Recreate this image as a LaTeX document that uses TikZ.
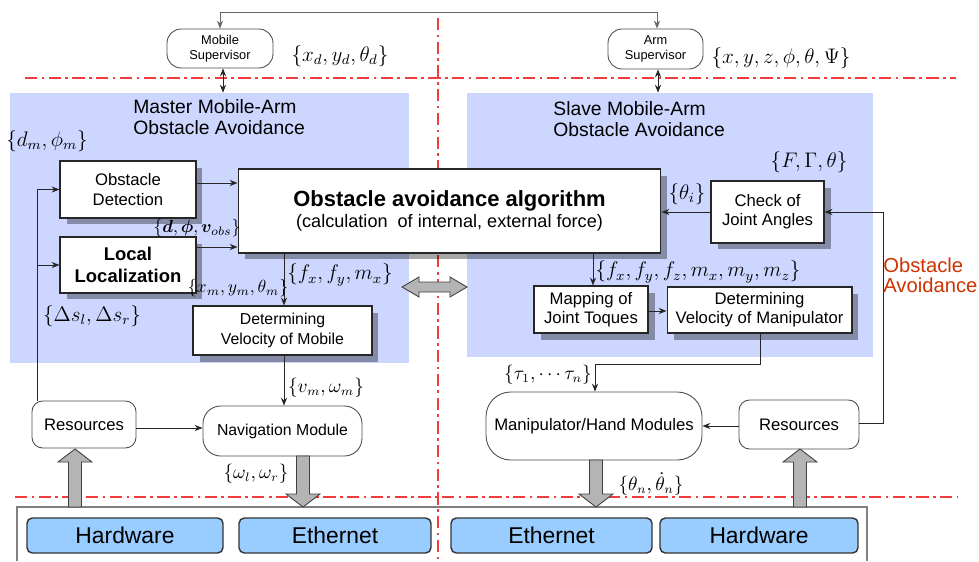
\documentclass[tikz,border=0pt]{standalone}
\usepackage{fontspec}
\setmainfont{Liberation Sans}
\usepackage{bm}
\usetikzlibrary{arrows.meta,shadows,calc}
\definecolor{panelblue}{RGB}{204,214,255}
\definecolor{hwblue}{RGB}{153,204,255}
\definecolor{dashred}{RGB}{240,60,60}
\definecolor{oared}{RGB}{204,51,0}
\definecolor{fatgray}{RGB}{180,180,180}
\newcommand\fatv[3]{%
  \pgfmathsetmacro\fatdir{(#3>#2)?1:-1}%
  \filldraw[fat] (#1-6.5,#2) -- (#1-6.5,#3-13*\fatdir) -- (#1-17,#3-13*\fatdir) -- (#1,#3)
    -- (#1+17,#3-13*\fatdir) -- (#1+6.5,#3-13*\fatdir) -- (#1+6.5,#2) -- cycle;}
\begin{document}
\begin{tikzpicture}[x=0.02cm,y=-0.02cm,
  every node/.style={inner sep=0pt, font=\fontsize{9.5}{11}\selectfont},
  sbox/.style={draw=black!85, fill=white, line width=0.6pt, align=center,
    drop shadow={shadow xshift=0.13cm, shadow yshift=-0.13cm, opacity=0.35, fill=black}},
  rbox/.style={draw=black!70, fill=white, line width=0.5pt, rounded corners=6pt, align=center},
  hwbox/.style={draw=black!80, fill=hwblue, line width=0.8pt, rounded corners=3pt,
    minimum height=0.7cm, font=\fontsize{13}{15}\selectfont},
  panel/.style={fill=panelblue, draw=none},
  conn/.style={draw=black!85, line width=0.5pt, -{Stealth[length=4.5pt,width=3.5pt]}},
  dconn/.style={draw=black!85, line width=0.5pt, {Stealth[length=4.5pt,width=3.5pt]}-{Stealth[length=4.5pt,width=3.5pt]}},
  redline/.style={draw=dashred, line width=0.7pt, dash pattern=on 7pt off 2.5pt on 1.5pt off 2.5pt},
  lbl/.style={font=\fontsize{12}{14}\selectfont},
  slbl/.style={font=\fontsize{10.5}{12}\selectfont},
  fat/.style={fill=fatgray, draw=black!75, line width=0.5pt}
]
\useasboundingbox (0,0) rectangle (979,561);

% panels
\node[panel, minimum width=7.98cm, minimum height=5.4cm] (master) at (209.5,228) {};
\node[panel, minimum width=8.12cm, minimum height=5.28cm] (slave) at (670,225) {};

% red dash-dot lines
\draw[redline] (25,78) -- (956,78);
\draw[redline] (15,497) -- (957,497);
\draw[redline] (438,18) -- (438,561);

% supervisors
\node[rbox, rounded corners=8pt, minimum width=2.12cm, minimum height=0.78cm,
  font=\fontsize{7.3}{8.5}\selectfont] (msup) at (220,48.5) {Mobile\\Supervisor};
\node[rbox, rounded corners=8pt, minimum width=1.9cm, minimum height=0.8cm,
  font=\fontsize{7.3}{8.5}\selectfont] (asup) at (655.5,49) {Arm\\Supervisor};
\node[lbl] (lxd) at (340,56) {$\{x_d, y_d, \theta_d\}$};
\node[lbl] (lxyz) at (781,58) {$\{x, y, z, \phi, \theta, \Psi\}$};
\draw[dconn, draw=black!60] (msup.north) -- ++(0,-16) -| (asup.north -| 657,0);
\draw[dconn] (msup.south -| 223,0) -- (master.north -| 223,0);
\draw[dconn] (asup.south -| 658,0) -- (slave.north -| 658,0);

% titles
\node[anchor=west, align=left, font=\fontsize{11}{12}\selectfont] (mtitle) at (133,117)
  {Master Mobile-Arm\\Obstacle Avoidance};
\node[anchor=west, align=left, font=\fontsize{11}{12}\selectfont] (stitle) at (553,119)
  {Slave Mobile-Arm\\Obstacle Avoidance};

% master blocks
\node[sbox, minimum width=2.72cm, minimum height=1.14cm] (od) at (128,189.5) {Obstacle\\Detection};
\node[sbox, minimum width=2.72cm, minimum height=1.12cm, font=\bfseries\fontsize{10.5}{12.5}\selectfont]
  (ll) at (128,265) {Local\\Localization};
\node[sbox, minimum width=8.46cm, minimum height=1.68cm] (alg) at (449.5,211)
  {{\bfseries\fontsize{12.5}{15}\selectfont Obstacle avoidance algorithm}\\[1pt]
   {\fontsize{10.3}{12}\selectfont (calculation\ \ of internal, external force)}};
\node[sbox, minimum width=3.58cm, minimum height=0.98cm, font=\fontsize{9}{11}\selectfont]
  (dvm) at (282.5,330.5) {Determining\\Velocity of Mobile};
\node[rbox, minimum width=2.08cm, minimum height=0.94cm] (resL) at (84,424.5) {Resources};
\node[rbox, rounded corners=10pt, minimum width=3.18cm, minimum height=1.0cm,
  font=\fontsize{9}{11}\selectfont] (nav) at (282.5,431) {Navigation Module};

% slave blocks
\node[sbox, minimum width=2.26cm, minimum height=1.24cm] (check) at (767.5,212) {Check of\\Joint Angles};
\node[sbox, minimum width=2.28cm, minimum height=0.94cm] (map) at (591,309.5) {Mapping of\\Joint Toques};
\node[sbox, minimum width=3.7cm, minimum height=0.92cm] (dvman) at (759.5,310)
  {Determining\\Velocity of Manipulator};
\node[rbox, rounded corners=14pt, minimum width=4.32cm, minimum height=1.36cm] (manip) at (594,426)
  {Manipulator/Hand Modules};
\node[rbox, minimum width=2.4cm, minimum height=0.98cm] (resR) at (799,424.5) {Resources};

% bottom container and hardware
\coordinate (ctop) at (17,507);
\draw[draw=black!50, line width=0.6pt] (17,561) |- (867,507) -- (867,561);
\node[hwbox, minimum width=3.92cm] (hw1) at (125,535.5) {Hardware};
\node[hwbox, minimum width=3.84cm] (eth1) at (335,535.5) {Ethernet};
\node[hwbox, minimum width=4.02cm] (eth2) at (551.5,535.5) {Ethernet};
\node[hwbox, minimum width=3.96cm] (hw2) at (759,535.5) {Hardware};

% connectors master
\draw[draw=black!85, line width=0.5pt] (resL.north -| 37,0) -- (37,189);
\draw[conn] (resL.north -| 37,0) |- (od.west);
\draw[conn] (resL.north -| 37,0) |- (ll.west);
\draw[conn] (od.east |- 0,183) -- (alg.west |- 0,183);
\draw[conn] (ll.east |- 0,247) -- (alg.west |- 0,247);
\draw[conn] (alg.south -| 284,0) -- (dvm.north -| 284,0);
\draw[conn] (dvm.south -| 284,0) -- (nav.north -| 284,0);
\draw[conn] (resL.east |- 0,428) -- (nav.west |- 0,428);

% connectors slave
\draw[conn] (check.west) -- (alg.east |- check.west);
\draw[conn] (resR.east |- 0,423) -- (883,423) |- (check.east);
\draw[conn] (alg.south -| 593,0) -- (map.north -| 593,0);
\draw[conn] (map.east |- 0,311) -- (dvman.west |- 0,311);
\draw[conn] (dvman.south -| 760,0) -- (760,364) -| (manip.north -| 595,0);
\draw[conn] (resR.west |- 0,426) -- (manip.east |- 0,426);

% fat arrows
\fatv{303}{456}{507}
\fatv{75}{507}{449}
\fatv{596}{460}{507}
\fatv{800}{507}{449}
\filldraw[fat] (402,287) -- (419,277) -- (419,282) -- (450,282) -- (450,277) -- (467,287)
  -- (450,297) -- (450,292) -- (419,292) -- (419,297) -- cycle;

% labels
\node[lbl] (ldm) at (47,141) {$\{d_m, \phi_m\}$};
\node[font=\fontsize{10}{12}\selectfont] (ldv) at (197,228) {$\{\bm{d}, \bm{\phi}, \bm{v}_{obs}\}$};
\node[font=\fontsize{10}{12}\selectfont] (lxm) at (238,288) {$\{x_m, y_m, \theta_m\}$};
\node[lbl] (lfx) at (340,275) {$\{f_x, f_y, m_x\}$};
\node[lbl] (lds) at (92,316) {$\{\Delta s_l, \Delta s_r\}$};
\node[slbl] (lvm) at (326,388) {$\{v_m, \omega_m\}$};
\node[slbl] (lom) at (256,474) {$\{\omega_l, \omega_r\}$};
\node[lbl] (lfg) at (809,162) {$\{F, \Gamma, \theta\}$};
\node[lbl] (lti) at (687,194) {$\{\theta_i\}$};
\node[lbl] (lfm) at (698,272) {$\{f_x, f_y, f_z, m_x, m_y, m_z\}$};
\node[slbl] (ltau) at (548,375) {$\{\tau_1, \cdots \tau_n\}$};
\node[slbl] (lth) at (651,484) {$\{\theta_n, \dot{\theta}_n\}$};
\node[anchor=west, align=left, text=oared, font=\fontsize{11.5}{11.5}\selectfont] (oa) at (883,275)
  {Obstacle\\Avoidance};
\end{tikzpicture}
\end{document}
